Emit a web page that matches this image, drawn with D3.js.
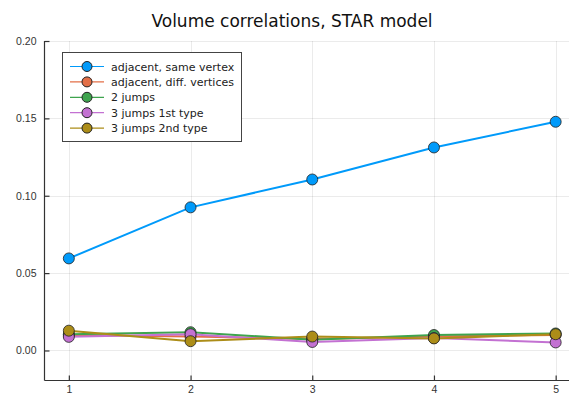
<!DOCTYPE html>
<html>
<head>
<meta charset="utf-8">
<script src="https://cdn.jsdelivr.net/npm/d3@7"></script>
<style>
  html, body { margin: 0; padding: 0; background: #fff; }
  svg { display: block; font-family: "DejaVu Sans", sans-serif; }
</style>
</head>
<body>
<svg id="chart" width="569" height="396"></svg>
<script>
// Distance between the two points (x axis)
const steps = [1, 2, 3, 4, 5];

// Correlation of the volumes for each pairing
const adjacentSameVertex = [0.0595, 0.0925, 0.1105, 0.1312, 0.1478];
const adjacentDiffVertices = [0.0100, 0.0090, 0.0075, 0.0090, 0.0100];
const twoJumps = [0.0105, 0.0118, 0.0070, 0.0100, 0.0110];
const threeJumps1st = [0.0088, 0.0105, 0.0055, 0.0080, 0.0052];
const threeJumps2nd = [0.0128, 0.0060, 0.0090, 0.0078, 0.0105];

const seriesNames = [
  "adjacent, same vertex",
  "adjacent, diff. vertices",
  "2 jumps",
  "3 jumps 1st type",
  "3 jumps 2nd type"
];
const seriesColors = ["#009AFA", "#E36F47", "#3EA44E", "#C371D2", "#AC8D18"];
const xTicks = [1, 2, 3, 4, 5];
const yTicks = [0.00, 0.05, 0.10, 0.15, 0.20];
const chartTitle = "Volume correlations, STAR model";

const allSeries = [adjacentSameVertex, adjacentDiffVertices, twoJumps, threeJumps1st, threeJumps2nd]
  .map((vals, i) => ({ name: seriesNames[i], color: seriesColors[i], values: vals }));

const svg = d3.select("#chart");
const plotLeft = 44.5, plotBottom = 380.5, plotTop = 41;

const x = d3.scaleLinear().domain([0.8, 5.2]).range([plotLeft, 580]);
const y = d3.scaleLinear().domain([-0.0194, 0.20]).range([plotBottom, plotTop]);

// Grid lines
const grid = svg.append("g").attr("stroke", "#000").attr("stroke-opacity", 0.08).attr("stroke-width", 1);
xTicks.forEach(t => grid.append("line")
  .attr("x1", Math.round(x(t)) + 0.5).attr("x2", Math.round(x(t)) + 0.5)
  .attr("y1", plotTop).attr("y2", plotBottom));
yTicks.forEach(t => grid.append("line")
  .attr("x1", plotLeft).attr("x2", 569)
  .attr("y1", Math.round(y(t)) + 0.5).attr("y2", Math.round(y(t)) + 0.5));

// Axes with inward ticks
const xAxis = svg.append("g")
  .attr("transform", `translate(0,${plotBottom})`)
  .call(d3.axisBottom(x).tickValues(xTicks).tickFormat(d3.format("d")).tickSizeInner(-5).tickSizeOuter(0).tickPadding(5));
const yAxis = svg.append("g")
  .attr("transform", `translate(${plotLeft},0)`)
  .call(d3.axisLeft(y).tickValues(yTicks).tickFormat(d3.format(".2f")).tickSizeInner(-5).tickSizeOuter(0).tickPadding(8));

[xAxis, yAxis].forEach(a => {
  a.select(".domain").attr("stroke", "#333").attr("stroke-width", 1.2);
  a.selectAll(".tick line").attr("stroke", "#333").attr("stroke-width", 1.2);
  a.selectAll(".tick text").attr("fill", "#333").attr("font-size", 10.5);
});
xAxis.select(".domain").attr("d", `M${plotLeft},0H569`);
yAxis.select(".domain").attr("d", `M0,${plotBottom}V${plotTop}`);

// Series lines and markers
const line = d3.line().x((d, i) => x(steps[i])).y(d => y(d));
const plot = svg.append("g");
allSeries.forEach(s => {
  plot.append("path")
    .attr("d", line(s.values))
    .attr("fill", "none")
    .attr("stroke", s.color)
    .attr("stroke-width", 2);
});
allSeries.forEach(s => {
  plot.selectAll(null).data(s.values).enter().append("circle")
    .attr("cx", (d, i) => x(steps[i]))
    .attr("cy", d => y(d))
    .attr("r", 5.5)
    .attr("fill", s.color)
    .attr("stroke", "#222")
    .attr("stroke-opacity", 0.8)
    .attr("stroke-width", 1);
});

// Title
svg.append("text")
  .attr("x", 292).attr("y", 27)
  .attr("text-anchor", "middle")
  .attr("font-size", 17)
  .attr("fill", "#111")
  .text(chartTitle);

// Legend
const legend = svg.append("g");
legend.append("rect")
  .attr("x", 62.5).attr("y", 52.5).attr("width", 179).attr("height", 89)
  .attr("fill", "#fff").attr("stroke", "#444").attr("stroke-width", 1);
allSeries.forEach((s, i) => {
  const ly = 66.5 + i * 15.4;
  legend.append("line")
    .attr("x1", 70).attr("x2", 104).attr("y1", ly).attr("y2", ly)
    .attr("stroke", s.color).attr("stroke-width", 1.2);
  legend.append("circle")
    .attr("cx", 87).attr("cy", ly).attr("r", 5)
    .attr("fill", s.color).attr("stroke", "#222").attr("stroke-width", 1);
  legend.append("text")
    .attr("x", 111).attr("y", ly + 4)
    .attr("font-size", 11)
    .attr("fill", "#222")
    .text(s.name);
});
</script>
</body>
</html>
